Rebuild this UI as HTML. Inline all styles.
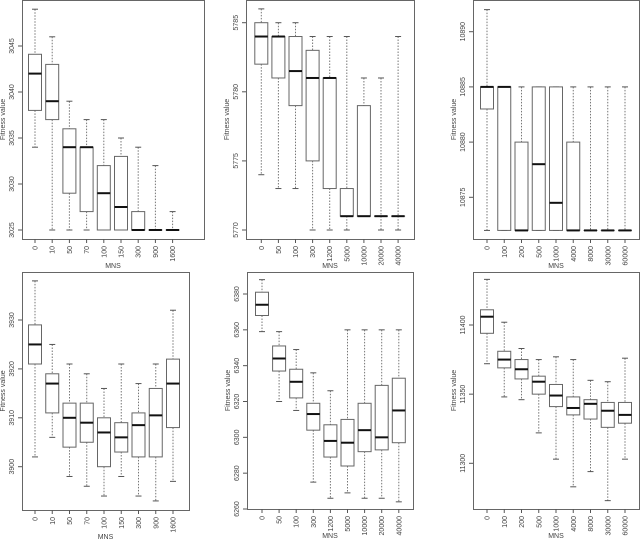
<!DOCTYPE html>
<html><head><meta charset="utf-8"><style>
body{margin:0;background:#fff;width:640px;height:541px;overflow:hidden}
svg text{font-family:"Liberation Sans",sans-serif;fill:#444}
</style></head><body>
<svg id="c" width="640" height="541"></svg>
<script>
const p1Cats=["0","10","50","70","100","150","300","900","1600"];
const p1Lo=[3034,3025,3025,3025,3025,3025,3025,3025,3025];
const p1Q1=[3038,3037,3029,3027,3025,3025,3025,3025,3025];
const p1Med=[3042,3039,3034,3034,3029,3027.5,3025,3025,3025];
const p1Q3=[3044.1,3043,3036,3034,3032,3033,3027,3025,3025];
const p1Hi=[3049,3046,3039,3037,3037,3035,3034,3032,3027];
const p1Ticks=[3025,3030,3035,3040,3045];

const p2Cats=["0","50","100","300","1200","5000","10000","20000","40000"];
const p2Lo=[5774,5773,5773,5770,5770,5770,5771,5770,5770];
const p2Q1=[5782,5781,5779,5775,5773,5771,5771,5771,5771];
const p2Med=[5784,5784,5781.5,5781,5781,5771,5771,5771,5771];
const p2Q3=[5785,5784,5784,5783,5781,5773,5779,5771,5771];
const p2Hi=[5786,5785,5785,5784,5784,5784,5781,5781,5784];
const p2Ticks=[5770,5775,5780,5785];

const p3Cats=["0","100","200","500","1000","4000","8000","30000","60000"];
const p3Lo=[10872,10872,10872,10872,10872,10872,10872,10872,10872];
const p3Q1=[10883,10872,10872,10872,10872,10872,10872,10872,10872];
const p3Med=[10885,10885,10872,10878,10874.5,10872,10872,10872,10872];
const p3Q3=[10885,10885,10880,10885,10885,10880,10872,10872,10872];
const p3Hi=[10892,10885,10885,10885,10885,10885,10885,10885,10885];
const p3Ticks=[10875,10880,10885,10890];

const p4Cats=["0","10","50","70","100","150","300","900","1600"];
const p4Lo=[3902,3906,3898,3896,3894,3898,3894,3893,3897];
const p4Q1=[3921,3911,3904,3905,3900,3903,3902,3902,3908];
const p4Med=[3925,3917,3910,3909,3907,3906,3908.5,3910.5,3917];
const p4Q3=[3929,3919,3913,3913,3910,3909,3911,3916,3922];
const p4Hi=[3938,3925,3921,3919,3916,3921,3917,3921,3932];
const p4Ticks=[3900,3910,3920,3930];

const p5Cats=["0","50","100","300","1200","5000","10000","20000","40000"];
const p5Lo=[6359,6320,6315,6275,6266,6269,6266,6266,6264];
const p5Q1=[6368,6337,6322,6304,6289,6284,6292,6293,6297];
const p5Med=[6374,6344,6331,6313,6298,6297,6304,6300,6315];
const p5Q3=[6381,6351,6338,6319,6307,6310,6319,6329,6333];
const p5Hi=[6388,6359,6349,6336,6326,6360,6360,6360,6360];
const p5Ticks=[6260,6280,6300,6320,6340,6360,6380];

const p6Cats=["0","100","200","500","1000","4000","8000","30000","60000"];
const p6Lo=[11372,11348,11346,11322,11303,11283,11294,11273,11303];
const p6Q1=[11394,11369,11361,11350,11341,11335,11332,11326,11329];
const p6Med=[11406,11375,11368,11359,11349,11340,11343,11338,11335];
const p6Q3=[11411,11381,11375,11363,11357,11348,11346,11344,11344];
const p6Hi=[11433,11402,11383,11375,11377,11375,11360,11359,11376];
const p6Ticks=[11300,11350,11400];

const svg=document.getElementById('c');
const NS='http://www.w3.org/2000/svg';
function mk(tag,attrs,parent){const e=document.createElementNS(NS,tag);for(const k in attrs)e.setAttribute(k,attrs[k]);(parent||svg).appendChild(e);return e;}

function panel(id,L,R,T,B,c0,cs,v0,y0,v1,y1,cats,lo,q1,med,q3,hi,ticks){
  const g=mk('g',{});
  
  
  const ys=v=>y0+(v-v0)*(y1-y0)/(v1-v0);
  const xs=i=>c0+i*cs;
  const frame=mk('rect',{x:L+0.5,y:T+0.5,width:R-L,height:B-T,fill:'none',stroke:'#666','stroke-width':1},g);
  
  
  ticks.forEach(t=>{
    const y=ys(t);
    const tk=mk('line',{x1:L-4,x2:L,y1:y,y2:y,stroke:'#555'},g);
    
    
    const tx=mk('text',{x:0,y:0,'font-size':7,'text-anchor':'middle',transform:`translate(${L-8},${y}) rotate(-90)`},g);
    tx.textContent=t;
    
    
  });
  const yt=mk('text',{x:0,y:0,'font-size':7,'text-anchor':'middle',transform:`translate(${L-17},${(T+B)/2}) rotate(-90)`},g);
  yt.textContent='Fitness value';
  
  
  const hw=6.5;
  cats.forEach((c,i)=>{
    const x=xs(i);
    const bg=mk('g',{},g);
    
    
    mk('line',{x1:x,x2:x,y1:ys(hi[i]),y2:ys(q3[i]),stroke:'#777','stroke-dasharray':'1.5,1.5'},bg);
    mk('line',{x1:x,x2:x,y1:ys(q1[i]),y2:ys(lo[i]),stroke:'#777','stroke-dasharray':'1.5,1.5'},bg);
    mk('line',{x1:x-3,x2:x+3,y1:ys(hi[i]),y2:ys(hi[i]),stroke:'#555'},bg);
    mk('line',{x1:x-3,x2:x+3,y1:ys(lo[i]),y2:ys(lo[i]),stroke:'#555'},bg);
    mk('rect',{x:x-hw,y:ys(q3[i]),width:2*hw,height:Math.max(0.01,ys(q1[i])-ys(q3[i])),fill:'#fff',stroke:'#666'},bg);
    mk('line',{x1:x-hw,x2:x+hw,y1:ys(med[i]),y2:ys(med[i]),stroke:'#111','stroke-width':2},bg);
    const tk=mk('line',{x1:x,x2:x,y1:B,y2:B+4,stroke:'#555'},g);
    
    
    const tx=mk('text',{x:0,y:0,'font-size':7,'text-anchor':'end',transform:`translate(${x+2.5},${B+7}) rotate(-90)`},g);
    tx.textContent=c;
    
    
  });
  const xt=mk('text',{x:(L+R)/2,y:B+29,'font-size':7,'text-anchor':'middle'},g);
  xt.textContent='MNS';
  
  
}
panel('top-left',22,204,0,239,35,17.2,3025,230,3045,46,p1Cats,p1Lo,p1Q1,p1Med,p1Q3,p1Hi,p1Ticks);
panel('top-middle',246,414,0,239,261.3,17.1,5770,230,5785,22.7,p2Cats,p2Lo,p2Q1,p2Med,p2Q3,p2Hi,p2Ticks);
panel('top-right',473,639,0,239,487,17.25,10875,197.3,10890,31.7,p3Cats,p3Lo,p3Q1,p3Med,p3Q3,p3Hi,p3Ticks);
panel('bottom-left',22,189,272,510,35,17.25,3900,466.7,3930,320,p4Cats,p4Lo,p4Q1,p4Med,p4Q3,p4Hi,p4Ticks);
panel('bottom-middle',247,413,272,509,262,17.1,6260,509,6380,294,p5Cats,p5Lo,p5Q1,p5Med,p5Q3,p5Hi,p5Ticks);
panel('bottom-right',473,639,272,509,487,17.25,11300,463.3,11400,325,p6Cats,p6Lo,p6Q1,p6Med,p6Q3,p6Hi,p6Ticks);
</script>
</body></html>
